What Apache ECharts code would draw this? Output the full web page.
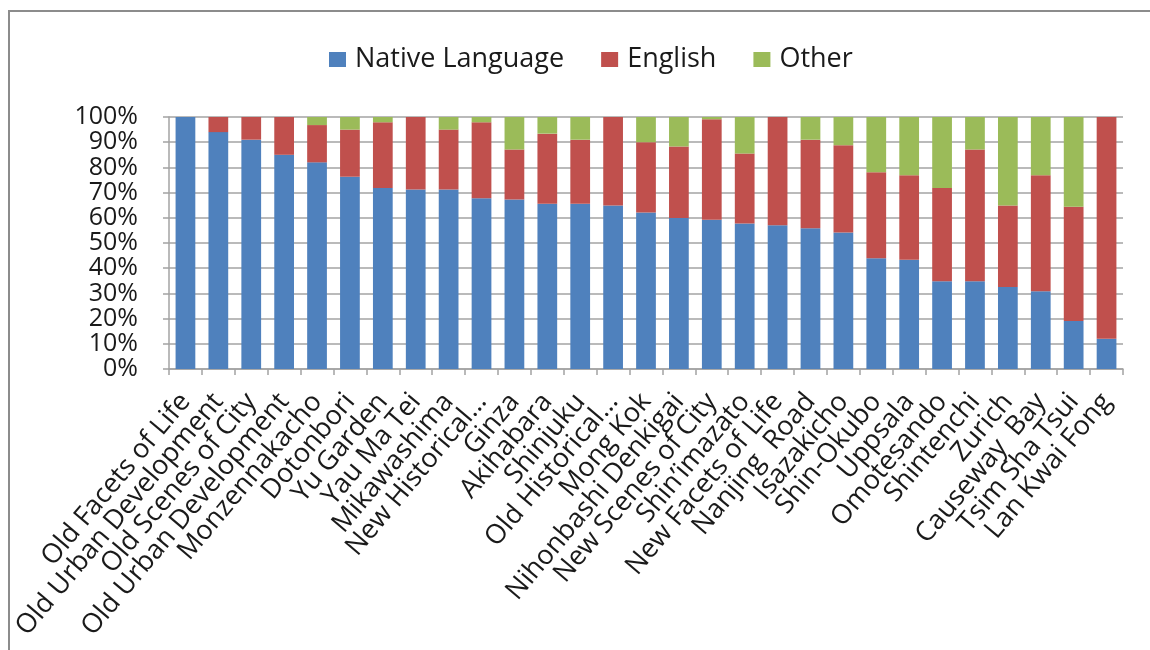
<!DOCTYPE html>
<html>
<head>
<meta charset="utf-8">
<script src="https://cdn.jsdelivr.net/npm/echarts@6/dist/echarts.min.js"></script>
<style>
  html, body { margin: 0; padding: 0; background: #fff; }
  #chart { width: 1150px; height: 650px; }
</style>
</head>
<body>
<div id="chart"></div>
<script>
// Sites along the x axis
const sites = [
  'Old Facets of Life', 'Old Urban Development', 'Old Scenes of City', 'Old Urban Development',
  'Monzennakacho', 'Dotonbori', 'Yu Garden', 'Yau Ma Tei', 'Mikawashima', 'New Historical…',
  'Ginza', 'Akihabara', 'Shinjuku', 'Old Historical…', 'Mong Kok', 'Nihonbashi Denkigai',
  'New Scenes of City', 'Shin\u2019imazato', 'New Facets of Life', 'Nanjing  Road', 'Isazakicho',
  'Shin-Okubo', 'Uppsala', 'Omotesando', 'Shintenchi', 'Zurich', 'Causeway  Bay',
  'Tsim Sha Tsui', 'Lan Kwai Fong'
];

// Share of signs in each language (percent of total)
const nativeLanguage = [100, 94, 91, 85, 82, 76.3, 71.8, 71.2, 71.2, 67.8, 67.3, 65.6, 65.6, 64.9, 62.1, 59.9, 59.2, 57.7, 57, 55.9, 54.2, 43.9, 43.4, 34.8, 34.8, 32.5, 30.9, 19, 12];
const english        = [0, 6, 9, 15, 14.8, 18.7, 26.1, 28.8, 23.8, 30.1, 19.8, 27.8, 25.4, 35.1, 27.9, 28.4, 39.9, 27.8, 43, 35.1, 34.6, 34.2, 33.5, 37, 52.3, 32.4, 46, 45.4, 88];
const other          = [0, 0, 0, 0, 3.2, 5, 2.1, 0, 5, 2.1, 12.9, 6.6, 9, 0, 10, 11.7, 0.9, 14.5, 0, 9, 11.2, 21.9, 23.1, 28.2, 12.9, 35.1, 23.1, 35.6, 0];

// Y axis ticks
const yTicks = [0, 10, 20, 30, 40, 50, 60, 70, 80, 90, 100];

const FONT = '"Open Sans", sans-serif';
const GRID_GRAY = '#a3a3a3';
const TEXT = '#1a1a1a';

const chart = echarts.init(document.getElementById('chart'), null, { renderer: 'canvas' });

function barSeries(name, data, color) {
  return {
    name: name,
    type: 'bar',
    stack: 'total',
    data: data,
    barCategoryGap: '40%',
    itemStyle: { color: color },
    emphasis: { disabled: true }
  };
}

chart.setOption({
  animation: false,
  backgroundColor: '#fff',
  textStyle: { fontFamily: FONT, color: TEXT },
  graphic: [{
    type: 'rect',
    shape: { x: 9, y: 11, width: 1200, height: 700 },
    style: { fill: 'none', stroke: '#8c8c8c', lineWidth: 2 },
    silent: true,
    z: 100
  }],
  legend: {
    data: ['Native Language', 'English', 'Other'],
    top: 41,
    left: 324,
    icon: 'rect',
    itemWidth: 17,
    itemHeight: 15,
    itemGap: 37,
    textStyle: { fontFamily: FONT, fontSize: 27, color: TEXT, padding: [0, 0, 0, 4] }
  },
  grid: { left: 169, right: 27, top: 117, bottom: 281, containLabel: false },
  xAxis: {
    type: 'category',
    data: sites,
    boundaryGap: true,
    axisLine: { show: true, lineStyle: { color: GRID_GRAY, width: 1.5 } },
    axisTick: { show: true, interval: 0, length: 6, inside: false, lineStyle: { color: GRID_GRAY, width: 1.5 } },
    axisLabel: {
      interval: 0,
      rotate: 50,
      margin: 28,
      fontFamily: FONT,
      fontSize: 27,
      color: TEXT
    },
    splitLine: { show: false }
  },
  yAxis: {
    type: 'value',
    min: yTicks[0],
    max: yTicks[yTicks.length - 1],
    interval: 10,
    axisLine: { show: true, lineStyle: { color: GRID_GRAY, width: 1.5 } },
    axisTick: { show: true, length: 6, lineStyle: { color: GRID_GRAY, width: 1.5 } },
    axisLabel: {
      margin: 31,
      showMinLabel: true,
      showMaxLabel: true,
      hideOverlap: false,
      fontFamily: FONT,
      fontSize: 25,
      color: TEXT,
      formatter: '{value}%'
    },
    splitLine: { show: true, lineStyle: { color: GRID_GRAY, width: 1.5 } }
  },
  series: [
    barSeries('Native Language', nativeLanguage, '#4F81BD'),
    barSeries('English', english, '#C0504D'),
    barSeries('Other', other, '#9BBB59')
  ]
});
</script>
</body>
</html>
